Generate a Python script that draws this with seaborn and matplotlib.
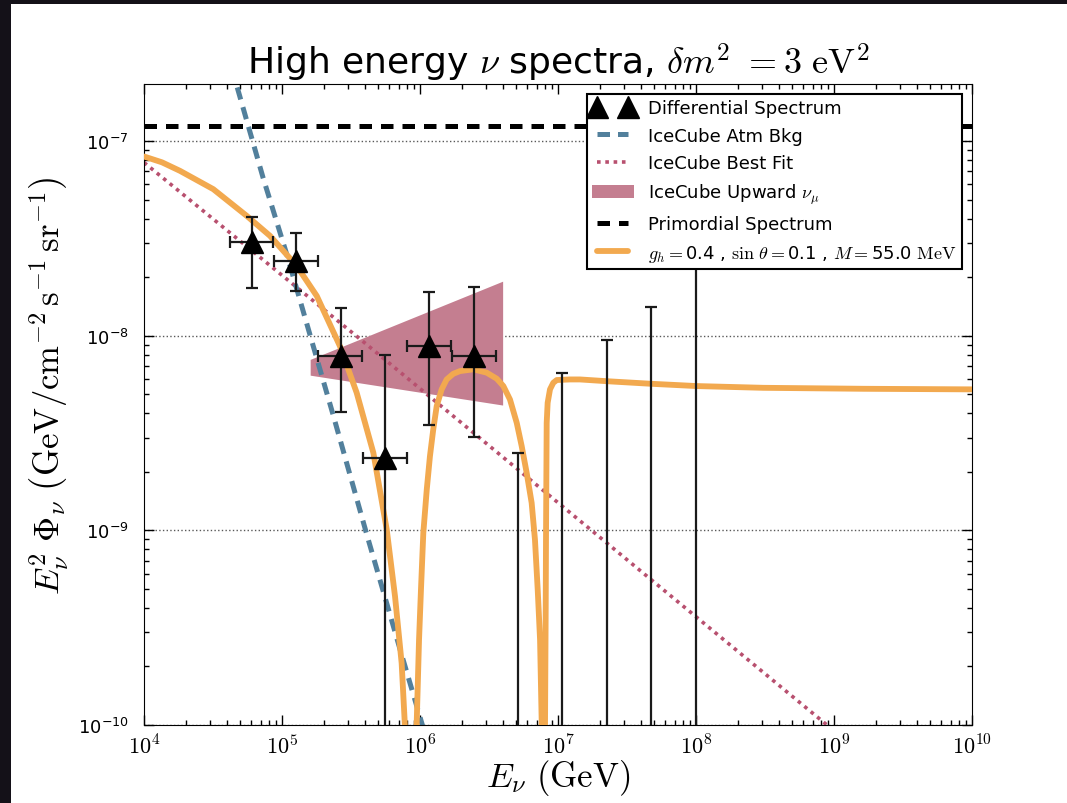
import numpy as np
import pandas as pd
import matplotlib
matplotlib.use('Agg')
import matplotlib.pyplot as plt
import seaborn as sns
from matplotlib.lines import Line2D
from matplotlib.patches import Patch, Rectangle

# binned events (GeV, GeV cm^-2 s^-1 sr^-1)
E_pts = [6.03e4, 1.26e5, 2.66e5, 5.57e5, 1.16e6, 2.45e6]
E_lo = [4.2e4, 8.75e4, 1.82e5, 3.86e5, 8.09e5, 1.70e6]
E_hi = [8.57e4, 1.83e5, 3.8e5, 8.05e5, 1.68e6, 3.56e6]
F_pts = [3.03e-8, 2.42e-8, 7.87e-9, 2.37e-9, 8.86e-9, 7.87e-9]
F_lo = [1.76e-8, 1.70e-8, 4.04e-9, 1e-12, 3.5e-9, 3.01e-9]
F_hi = [4.07e-8, 3.37e-8, 1.385e-8, 7.96e-9, 1.69e-8, 1.78e-8]

# empty bins -> upper limits
E_ul = [5.13e6, 1.07e7, 2.27e7, 4.72e7, 1.0e8]
F_ul = [2.49e-9, 6.47e-9, 9.48e-9, 1.40e-8, 2.43e-8]

atm_logE = [4.55, 4.672, 4.864, 5.034, 5.372, 5.614, 5.855, 6.1]
atm_logF = [-6.42, -6.714, -7.19, -7.58, -8.41, -9.02, -9.61, -10.2]

fit_logE = [4.0, 5.589, 8.949, 10.0]
fit_logF = [-7.109, -8.03, -10.0, -10.613]

model_logE = [4.0, 4.13, 4.261, 4.502, 4.744, 4.913, 5.107, 5.252, 5.420, 5.541, 5.662,
              5.759, 5.819, 5.867, 5.891, 5.93, 5.976, 5.993, 6.007, 6.024, 6.049,
              6.072, 6.096, 6.121, 6.157, 6.193, 6.241, 6.29, 6.386, 6.483, 6.556,
              6.604, 6.652, 6.701, 6.737, 6.773, 6.809, 6.833, 6.853, 6.87, 6.882,
              6.894, 6.906, 6.911, 6.913, 6.918, 6.925, 6.942, 6.966, 6.991, 7.087,
              7.159, 7.353, 7.667, 8.005, 8.488, 9.212, 10.0]
model_logF = [-7.078, -7.108, -7.152, -7.246, -7.383, -7.486, -7.641, -7.795, -8.053, -8.292, -8.601,
              -8.996, -9.339, -9.682, -10.008, -12.0, -9.991, -9.562, -9.305, -9.013, -8.79,
              -8.619, -8.481, -8.361, -8.275, -8.224, -8.195, -8.181, -8.172, -8.189, -8.22,
              -8.258, -8.327, -8.447, -8.567, -8.704, -8.858, -9.047, -9.305, -9.562, -9.991,
              -12.0, -9.991, -9.39, -9.047, -8.447, -8.344, -8.275, -8.241, -8.227, -8.224,
              -8.224, -8.233, -8.246, -8.258, -8.267, -8.272, -8.275]

prim_E = [1e4, 1e10]
prim_F = [1.2e-7, 1.2e-7]

up_E = [1.6e5, 3.97e6]
up_lo = [6.28e-9, 4.41e-9]
up_hi = [7.57e-9, 1.91e-8]

sns.set_style("ticks", {'xtick.direction': 'in', 'ytick.direction': 'in',
                        'axes.edgecolor': '0', 'axes.linewidth': 1.2})
plt.rcParams['font.family'] = ['DejaVu Sans']
plt.rcParams['mathtext.fontset'] = 'cm'
for k in ['text.color', 'axes.labelcolor', 'xtick.color', 'ytick.color']:
    plt.rcParams[k] = 'black'

fig = plt.figure(figsize=(10.67, 8.04), dpi=100, facecolor='#141118')
fig.add_artist(Rectangle((11/1067, 0), 1, 1 - 5/804, transform=fig.transFigure,
                         facecolor='white', edgecolor='none', zorder=-10))
ax = fig.add_axes([144/1067, 78/804, 828/1067, 641/804])
ax.set_xscale('log')
ax.set_yscale('log')

atm = pd.DataFrame({'E': 10**np.array(atm_logE), 'F': 10**np.array(atm_logF)})
fit = pd.DataFrame({'E': 10**np.array(fit_logE), 'F': 10**np.array(fit_logF)})
model = pd.DataFrame({'E': 10**np.array(model_logE), 'F': 10**np.array(model_logF)})
prim = pd.DataFrame({'E': prim_E, 'F': prim_F})

ax.fill_between(up_E, up_lo, up_hi, color='#c47e90', lw=0, zorder=1)
sns.lineplot(data=fit, x='E', y='F', ax=ax, sort=False, estimator=None, color='#b8506f',
             lw=2.6, linestyle=(0, (1, 1.3)), zorder=2)
sns.lineplot(data=atm, x='E', y='F', ax=ax, sort=False, estimator=None, color='#52809c',
             lw=3.6, linestyle=(0, (2.5, 1.6)), zorder=2)
sns.lineplot(data=prim, x='E', y='F', ax=ax, sort=False, estimator=None, color='k',
             lw=3.6, linestyle=(0, (2.5, 1.8)), zorder=2)
sns.lineplot(data=model, x='E', y='F', ax=ax, sort=False, estimator=None, color='#f2a94f',
             lw=4.2, zorder=3)

E = np.array(E_pts); F = np.array(F_pts)
ax.errorbar(E, F, xerr=[E - np.array(E_lo), np.array(E_hi) - E],
            yerr=[F - np.array(F_lo), np.array(F_hi) - F],
            fmt='^', color='k', ms=16, ecolor='#1a1a1a', elinewidth=1.6,
            capsize=4.5, capthick=1.6, zorder=5)
Fu = np.array(F_ul)
ax.errorbar(E_ul, Fu, yerr=[Fu - 1e-12, np.zeros_like(Fu)], fmt='none',
            ecolor='#1a1a1a', elinewidth=1.6, capsize=4.5, capthick=1.6, zorder=5)

ax.set_xlim(1e4, 1e10)
ax.set_ylim(1e-10, 1.97e-7)
ax.yaxis.grid(True, which='major', ls=':', color='0.35', lw=1.0)
ax.xaxis.grid(False)
ax.tick_params(which='both', top=True, right=True, direction='in')
ax.tick_params(which='major', length=7, width=1)
ax.tick_params(which='minor', length=3.5, width=1)
ax.tick_params(axis='y', labelsize=13, pad=11)
ax.tick_params(axis='x', labelsize=16, pad=6)
ax.xaxis.set_major_formatter(plt.FuncFormatter(lambda v, p: r'$10^{%d}$' % round(np.log10(v))))
ax.yaxis.set_major_formatter(plt.FuncFormatter(
    lambda v, p: r'$\mathdefault{10^{%d}}$' % round(np.log10(v))))
ax.xaxis.set_major_locator(matplotlib.ticker.LogLocator(base=10, numticks=10))
ax.xaxis.set_minor_locator(matplotlib.ticker.LogLocator(base=10, subs=np.arange(2, 10), numticks=20))

ax.set_title(r'High energy $\nu$ spectra, $\delta m^2\ =3\ \mathrm{eV}^2$', fontsize=26, pad=7)
ax.set_xlabel(r'$E_\nu\ (\mathrm{GeV})$', fontsize=25, labelpad=0)
ax.set_ylabel(r'$E_\nu^2\ \Phi_\nu\ \left(\mathrm{GeV/cm^{-2}\,s^{-1}\,sr^{-1}}\right)$',
              fontsize=25)
ax.yaxis.set_label_coords(-0.088, 0.53)

handles = [Line2D([], [], marker='^', ls='none', color='k', ms=16),
           Line2D([], [], color='#52809c', lw=3.6, linestyle=(0, (2.5, 1.6))),
           Line2D([], [], color='#b8506f', lw=2.6, linestyle=(0, (1, 1.3))),
           Patch(facecolor='#c47e90', edgecolor='none'),
           Line2D([], [], color='k', lw=3.6, linestyle=(0, (2.5, 1.8))),
           Line2D([], [], color='#f2a94f', lw=4.2)]
labels = ['Differential Spectrum', 'IceCube Atm Bkg', 'IceCube Best Fit',
          r'IceCube Upward $\nu_\mu$', 'Primordial Spectrum',
          r'$g_h=$0.4 , $\sin\,\theta=$0.1 , $M=$55.0 $\mathrm{MeV}$']
leg = ax.legend(handles, labels, loc='upper right', fontsize=13, numpoints=2,
                fancybox=False, framealpha=1, edgecolor='k', handlelength=2.3,
                handletextpad=0.8, labelspacing=0.52, borderpad=0.3,
                borderaxespad=0.55)
leg.get_frame().set_linewidth(1.5)

fig.savefig('out.png', dpi=100, facecolor=fig.get_facecolor())
